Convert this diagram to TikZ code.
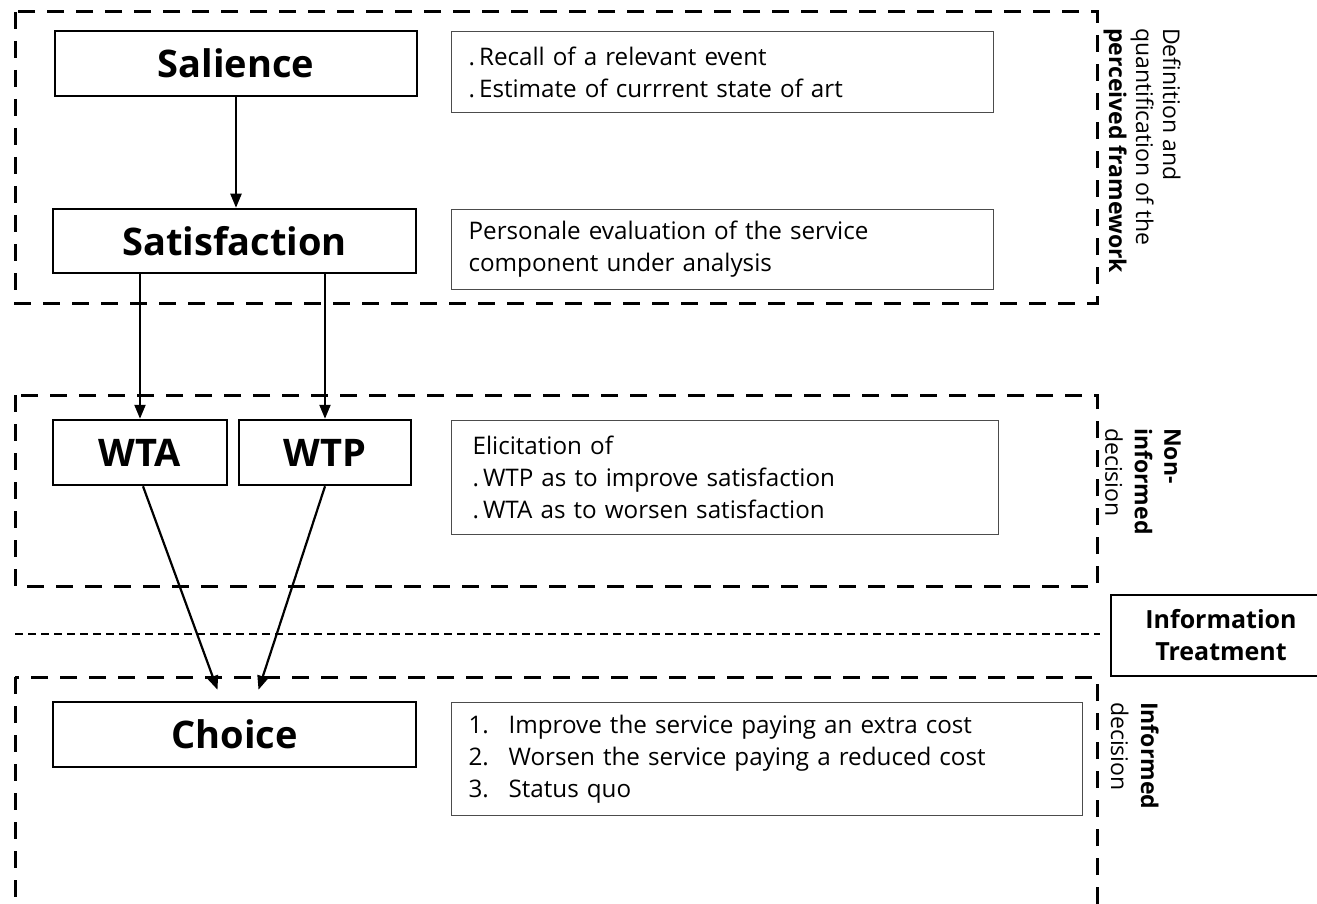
\documentclass[tikz,border=0pt]{standalone}
\usepackage{fontspec}
\setmainfont{Open Sans}
\usetikzlibrary{arrows.meta,calc}
\begin{document}
\begin{tikzpicture}[x=1pt,y=-1pt,
  bigbox/.style={draw, line width=2.5pt, inner sep=0pt, font=\fontsize{38}{40}\selectfont\bfseries},
  txtbox/.style={draw=black!70, line width=1.2pt, inner ysep=0pt, align=left, anchor=north west, font=\fontsize{24.2}{32}\selectfont},
  frame/.style={line width=3pt, dash pattern=on 17pt off 12pt},
  thindash/.style={line width=1.5pt, dash pattern=on 8pt off 5pt},
  arr/.style={line width=2.2pt, -{Triangle[length=14pt,width=11pt]}},
  sidelbl/.style={rotate=-90, anchor=north west, inner sep=0pt, align=left}]
\useasboundingbox (0,0) rectangle (1317,904);
\clip (0,0) rectangle (1317,904);

% dashed frames
\draw[frame] (15,12) rectangle (1097,303);
\draw[frame] (15,395) rectangle (1097,586);
\draw[frame] (15,677) rectangle (1097,960);
\draw[thindash] (15,634) -- (1100,634);

% main boxes
\node[bigbox, minimum width=362pt, minimum height=65pt] (sal) at (236,63.5) {Salience};
\node[bigbox, minimum width=363pt, minimum height=64pt] (sat) at (234.5,241) {Satisfaction};
\node[bigbox, minimum width=174pt, minimum height=65pt] (wta) at (140,452.5) {WTA};
\node[bigbox, minimum width=172pt, minimum height=65pt] (wtp) at (325,452.5) {WTP};
\node[bigbox, minimum width=363pt, minimum height=65pt] (cho) at (234.5,734.5) {Choice};

% text boxes
\node[txtbox, inner xsep=17pt, text width=508pt, minimum height=81pt] (ta) at (451,31)
  {.\,Recall of a relevant event\\.\,Estimate of currrent state of art};
\node[txtbox, inner xsep=17pt, text width=508pt, minimum height=80pt] (tb) at (451,209)
  {Personale evaluation of the service\\component under analysis};
\node[txtbox, inner xsep=21pt, text width=505pt, minimum height=114pt] (tc) at (451,420)
  {Elicitation of\\.\,WTP as to improve satisfaction\\.\,WTA as to worsen satisfaction};
\node[txtbox, inner xsep=17pt, text width=597pt, minimum height=113pt] (td) at (451,702)
  {\makebox[40pt][l]{1.}Improve the service paying an extra cost\\
   \makebox[40pt][l]{2.}Worsen the service paying a reduced cost\\
   \makebox[40pt][l]{3.}Status quo};

% information treatment
\node[draw, line width=2pt, anchor=north west, minimum width=220pt, minimum height=81pt,
  inner sep=0pt, align=center, font=\fontsize{25}{32}\selectfont\bfseries] (info) at (1110,594)
  {Information\\Treatment};

% side labels
\node[sidelbl, font=\fontsize{23}{27}\selectfont] (l1) at (1181,28) {Definition and\\quantification of the\\\textbf{perceived framework}};
\node[sidelbl, font=\fontsize{23}{29.5}\selectfont] (l2) at (1181,428) {\textbf{Non-}\\\textbf{informed}\\decision};
\node[sidelbl, font=\fontsize{23}{30}\selectfont] (l3) at (1159,702) {\textbf{Informed}\\decision};

% arrows
\draw[arr] (sal.south) -- (sal.south |- sat.north);
\draw[arr] (sat.south -| wta) -- (wta.north);
\draw[arr] (sat.south -| wtp) -- (wtp.north);
\coordinate (c1) at ($(cho.north)+(-17,-11)$);
\coordinate (c2) at ($(cho.north)+(24,-11)$);
\draw[arr] ($(wta.south)+(3,0)$) -- (c1);
\draw[arr] (wtp.south) -- (c2);
\end{tikzpicture}
\end{document}
